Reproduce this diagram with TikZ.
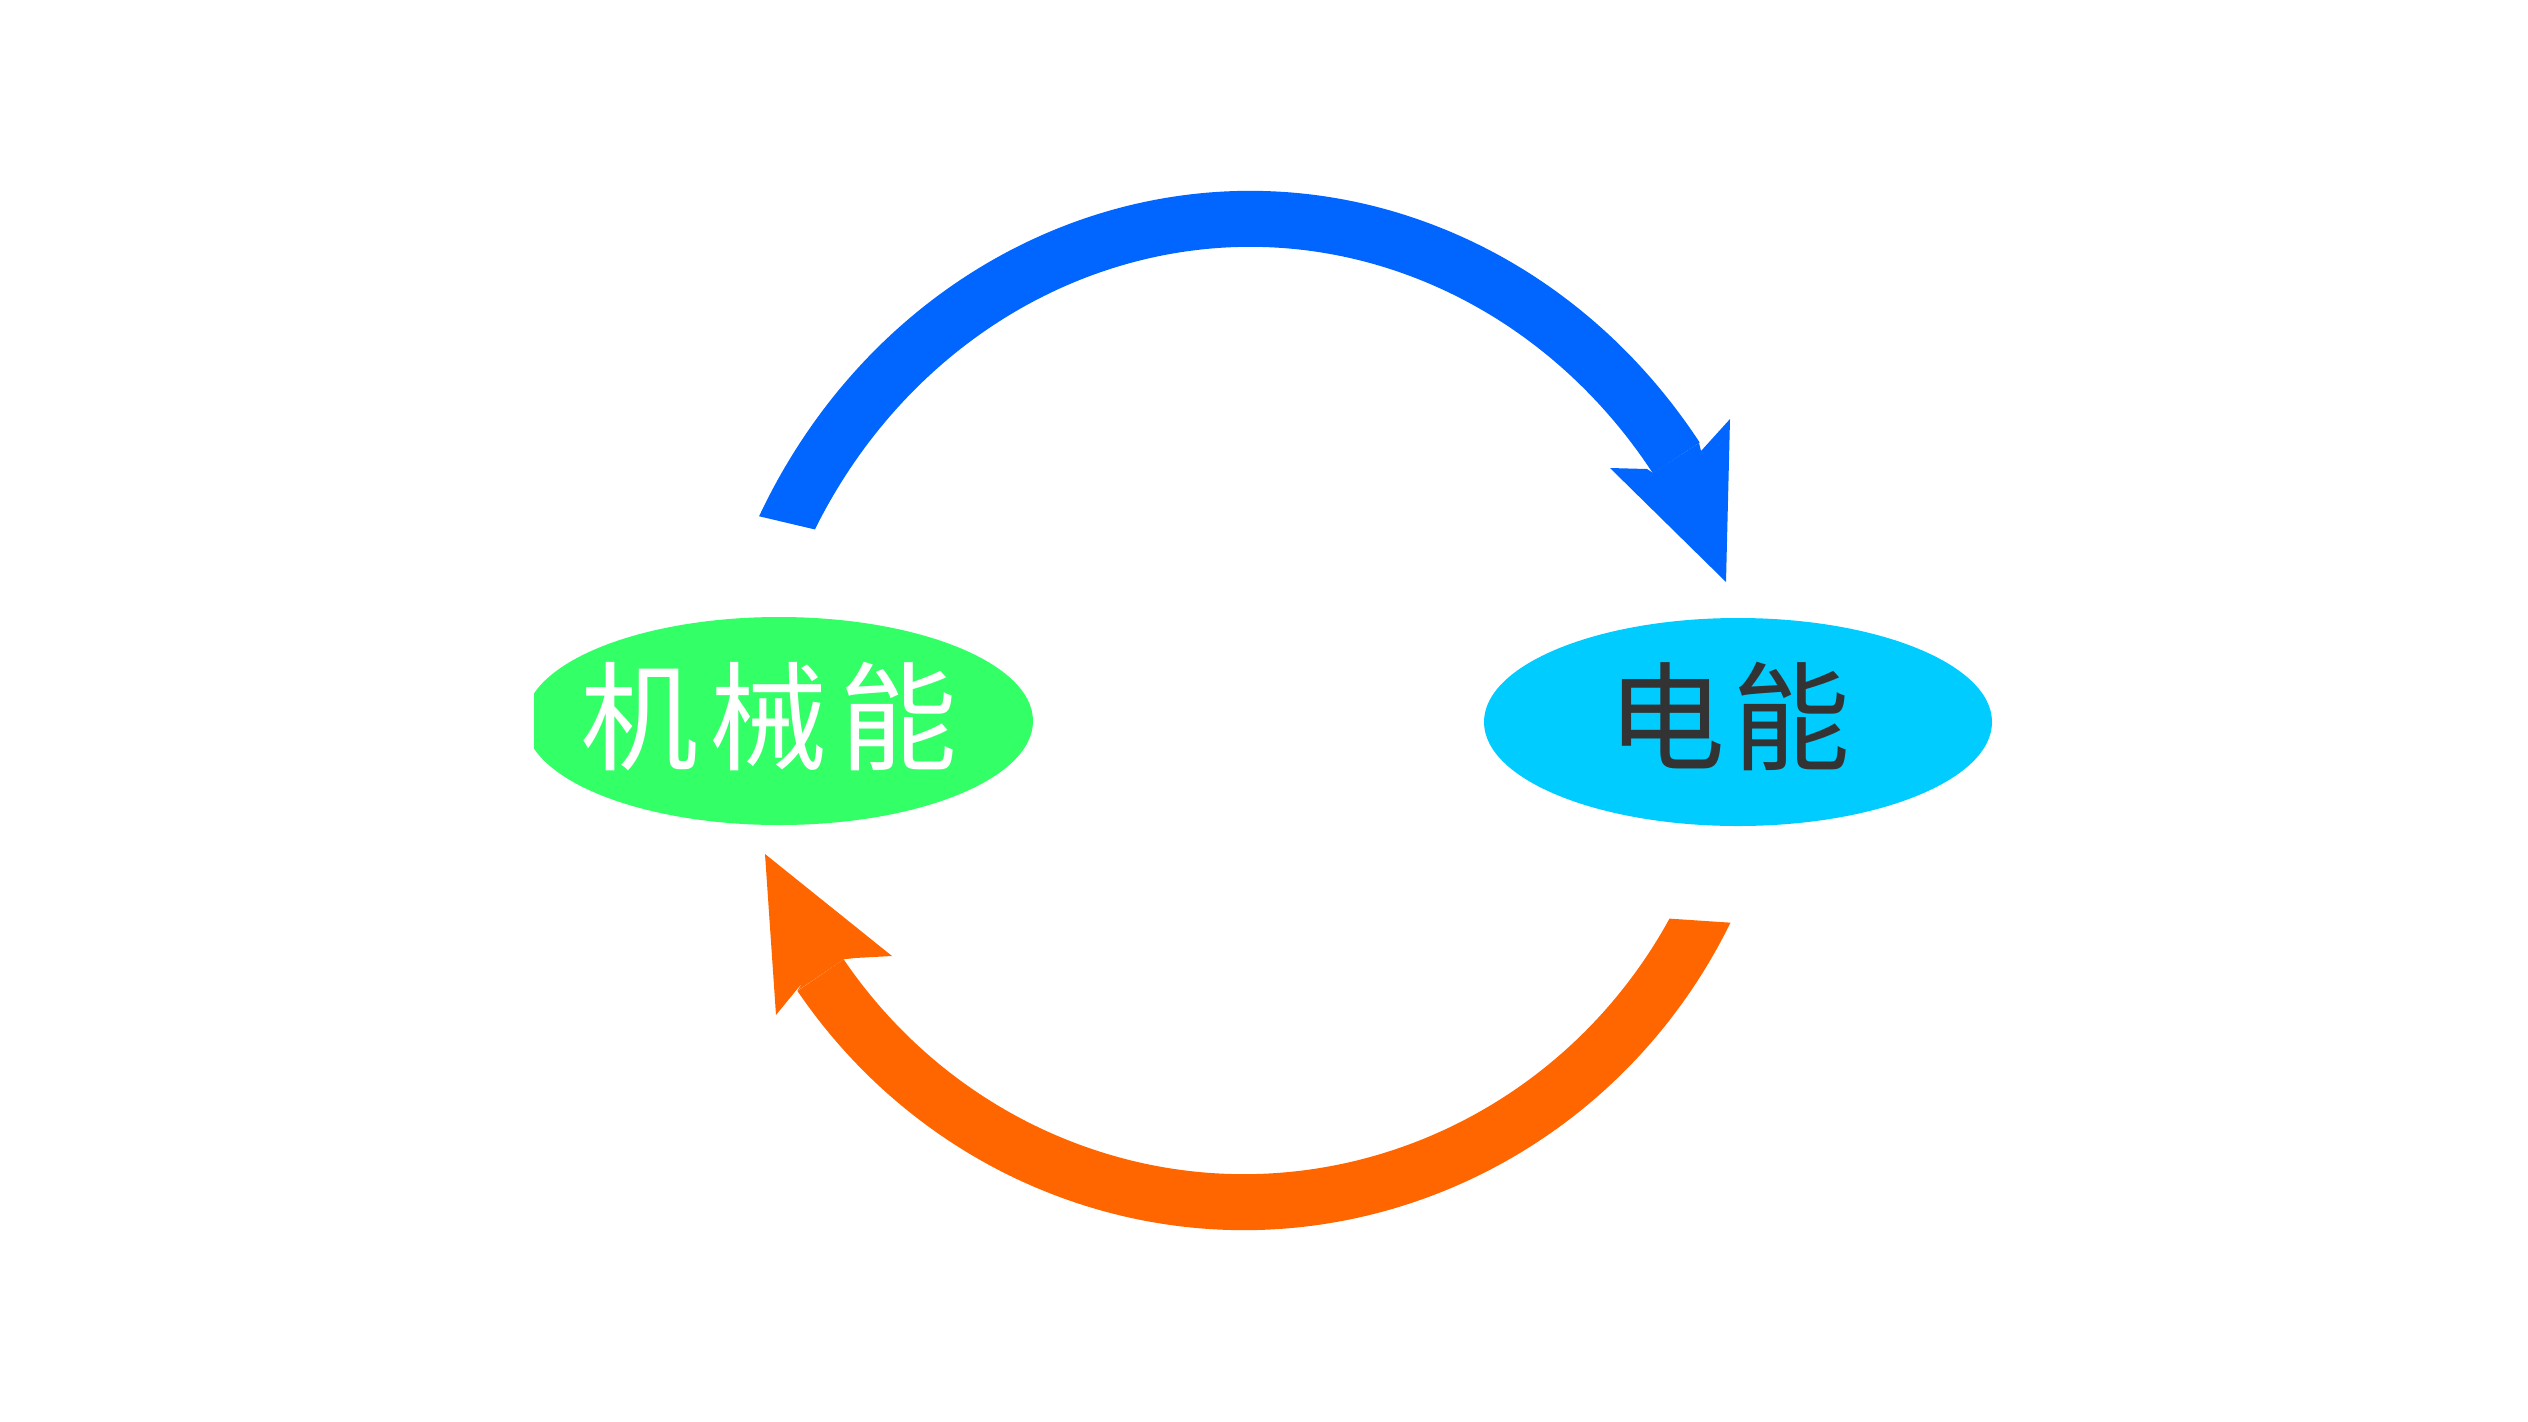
\documentclass[tikz,border=0pt]{standalone}
\usepackage{fontspec}
\newfontfamily\cjk{Noto Sans CJK SC}
\usetikzlibrary{shapes.geometric}
\definecolor{arrowblue}{HTML}{0066FF}
\definecolor{arroworange}{HTML}{FF6600}
\definecolor{mechgreen}{HTML}{33FF66}
\definecolor{eleccyan}{HTML}{00CCFF}
\definecolor{darktext}{HTML}{333333}
\tikzset{
  bubble/.style={ellipse, minimum width=508pt, minimum height=208pt, inner sep=0pt, draw=none},
  energylabel/.style={font=\cjk\fontsize{118}{130}\selectfont, inner sep=0pt},
  bandline/.style={line width=56pt, line cap=butt},
}
\begin{document}
\begin{tikzpicture}[x=1pt,y=-1pt]
\useasboundingbox (0,0) rectangle (2528,1422);
% energy nodes
\begin{scope}
  \clip (534,0) rectangle (2528,1422);
  \node[bubble, fill=mechgreen] (mech) at (779,721) {};
\end{scope}
\node[bubble, fill=eleccyan] (elec) at (1738,722) {};
\node[energylabel, text=white] (mechlabel) at (769,717) {机\hspace{12pt}械\hspace{12pt}能};
\node[energylabel, text=darktext] (eleclabel) at (1729,716) {电\hspace{8pt}能};
% blue arrow: mechanical -> electric
\coordinate (bstart) at (765.1,574.2);
\begin{scope}
  \clip (0,0) -- (2528,0) -- (2528,934) -- (0,337) -- cycle;
  \draw[bandline, arrowblue] (bstart) arc[start angle=-158, end angle=-35.4, x radius=523, y radius=568] coordinate (bend);
\end{scope}
\fill[arrowblue] (1699,443) -- (1701,451) -- (1730,419) -- (1726,582) -- (1610,468) -- (1647,469) -- (1653,473) -- cycle;
% orange arrow: electric -> mechanical
\coordinate (ostart) at (1723.4,869.3);
\begin{scope}
  \clip (0,807) -- (2528,976) -- (2528,1422) -- (0,1422) -- cycle;
  \draw[bandline, arroworange] (ostart) arc[start angle=22, end angle=145, x radius=517, y radius=532] coordinate (oend);
\end{scope}
\fill[arroworange] (843.7,959.3) -- (855,958) -- (892,956) -- (765,854) -- (776,1015) -- (803,982) -- (797.3,990.8) -- cycle;
\end{tikzpicture}
\end{document}
